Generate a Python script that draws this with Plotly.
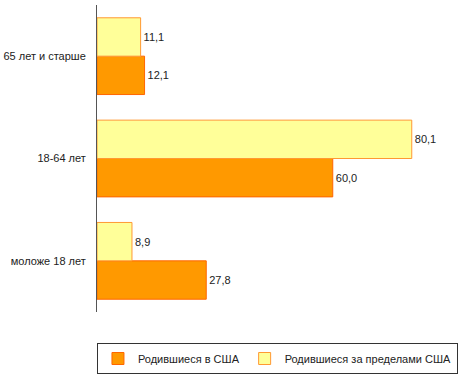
import plotly.graph_objects as go

categories = ["моложе 18 лет", "18-64 лет", "65 лет и старше"]
born_us = [27.8, 60.0, 12.1]
born_abroad = [8.9, 80.1, 11.1]
series_names = ["Родившиеся в США", "Родившиеся за пределами США"]

FONT = "Liberation Sans, Arial"

fig = go.Figure()
fig.add_trace(go.Bar(
    y=categories, x=born_us, orientation="h", name=series_names[0],
    marker=dict(color="#FF9900", line=dict(color="#FF6600", width=1)),
    texttemplate="%{x:.1f}", textposition="outside",
    textfont=dict(family=FONT, size=11, color="#222222"),
    cliponaxis=False,
))
fig.add_trace(go.Bar(
    y=categories, x=born_abroad, orientation="h", name=series_names[1],
    marker=dict(color="#FFFF99", line=dict(color="#FF9933", width=1)),
    texttemplate="%{x:.1f}", textposition="outside",
    textfont=dict(family=FONT, size=11, color="#222222"),
    cliponaxis=False,
))

fig.update_layout(
    width=474, height=377,
    margin=dict(l=97, r=43, t=5, b=65, autoexpand=False),
    paper_bgcolor="white", plot_bgcolor="white",
    barmode="group", bargap=0.25, bargroupgap=0,
    separators=", ",
    font=dict(family=FONT, size=11, color="#222222"),
    xaxis=dict(range=[0, 85], showgrid=False, zeroline=False, showline=False,
               showticklabels=False, ticks="", automargin=False),
    yaxis=dict(categoryorder="array", categoryarray=categories, automargin=False,
               showgrid=False, zeroline=False, showline=True, linecolor="#555555",
               linewidth=1, ticks="", ticklabelstandoff=8,
               tickfont=dict(family=FONT, size=11, color="#222222")),
    showlegend=True,
    legend=dict(orientation="h", traceorder="normal",
                x=-0.0001, xanchor="left", y=-0.101, yanchor="top",
                bordercolor="#333333", borderwidth=1, bgcolor="white",
                font=dict(family=FONT, size=11, color="#222222"),
                itemwidth=30, tracegroupgap=0),
)

fig.write_html("out.html", config={"displayModeBar": False},
               post_script="document.body.style.margin='0';")
